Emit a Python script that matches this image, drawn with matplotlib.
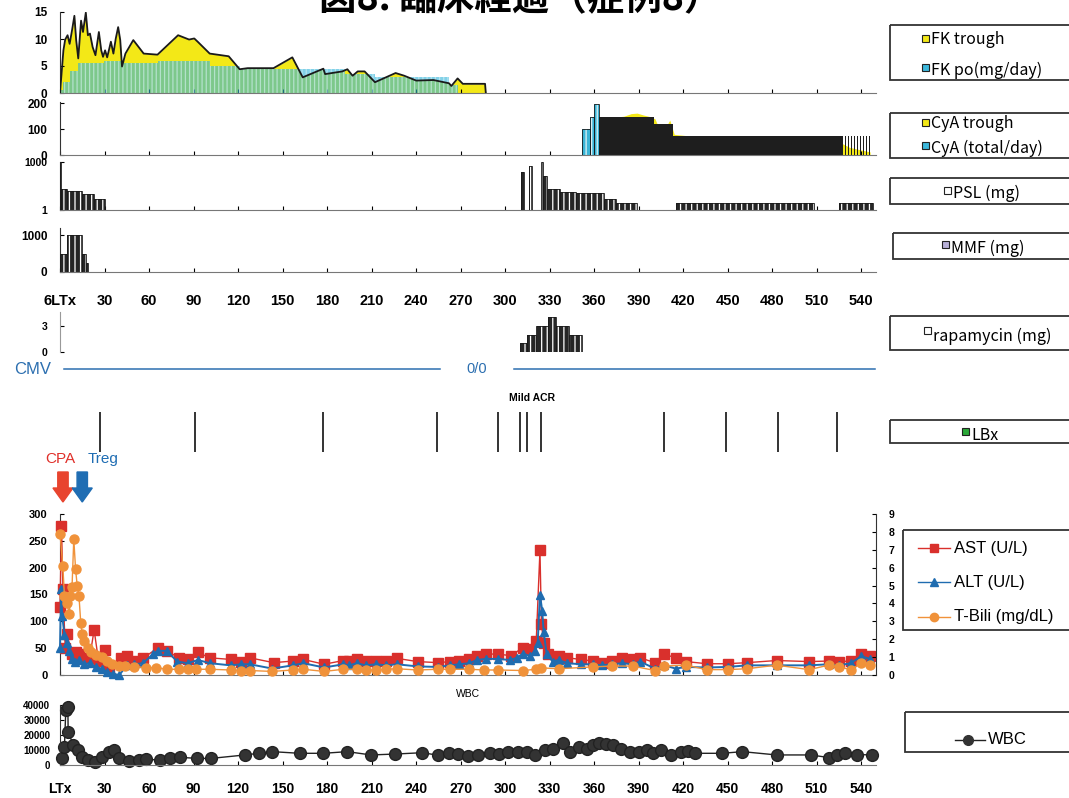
import numpy as np
import matplotlib
matplotlib.use("Agg")
import matplotlib.pyplot as plt
from matplotlib.patches import Rectangle, FancyArrow

plt.rcParams['font.family'] = ['Liberation Sans', 'Noto Sans CJK JP', 'DejaVu Sans']
plt.rcParams['font.weight'] = 'bold'
plt.rcParams['hatch.linewidth'] = 0.9

W, H = 1069, 798
XMAX = 550

# ---------------- data ----------------
# FK trough (ng/mL) and FK po dose (mg/day)
fk_day = [0, 2.3, 3.5, 5.1, 6.5, 8.1, 9.7, 10.9, 12.3, 14.2, 15.5, 17.4, 18.8, 20.2, 22.0, 23.9,
          26.2, 27.8, 29.0, 30.4, 31.8, 33.2, 34.3, 36.0, 37.6, 39.2, 40.6, 41.8, 44.1, 49.4, 56.4,
          65.7, 79.6, 87.0, 90.5, 92.8, 100.9, 113.7, 121.1, 126.5, 143.9, 156.6, 163.6, 177.5,
          178.7, 190.3, 193.7, 197.2, 200.7, 205.3, 212.3, 226.2, 232.0, 240.1, 251.7, 262.2,
          263.8, 268.0, 271.5, 286.5, 287.0]
fk_trough = [0, 7.9, 9.9, 10.7, 9.1, 11.6, 14.3, 9.8, 6.4, 13.4, 11.3, 14.9, 10.7, 11.0, 8.5, 7.0,
             11.3, 7.9, 6.7, 7.9, 6.6, 8.2, 9.5, 7.3, 10.1, 12.2, 9.8, 4.9, 7.3, 9.8, 7.3,
             7.1, 10.7, 9.9, 10.1, 9.5, 7.3, 6.8, 4.4, 4.6, 4.6, 6.6, 2.9, 4.5,
             3.5, 4.0, 4.4, 3.2, 4.0, 4.0, 2.0, 3.7, 3.2, 2.3, 2.4, 1.8,
             1.3, 2.7, 1.7, 1.7, 0]
fk_po_start = [0, 2, 7, 12, 29.5, 42, 66, 101, 121, 192, 212, 262]
fk_po_end = [2, 7, 12, 29.5, 42, 66, 101, 121, 192, 212, 262, 268]
fk_po_dose = [0.5, 2, 4, 5.5, 6, 5.5, 6, 5, 4.5, 3.5, 3, 1.5]

# CyA trough and CyA total/day
cya_day = [352, 356, 360, 363, 380, 385, 389, 393, 398, 401, 404, 406, 409, 411, 414, 430,
           520, 527, 532, 538, 546]
cya_trough = [20, 30, 45, 140, 150, 160, 162, 155, 148, 140, 100, 95, 115, 135, 80, 70,
              60, 45, 30, 22, 12]
cya_start = [352, 357, 360, 363, 400.5, 413]
cya_end = [357, 360, 363, 400.5, 413, 527]
cya_dose = [100, 147, 197, 147, 120, 75]
cya_late_day = [527, 529, 531, 533, 535, 537, 539, 541, 543, 545]
cya_late_dose = [75, 75, 75, 75, 75, 75, 75, 75, 75, 75]

# PSL (mg), log scale
psl_start = [0, 1, 5, 15, 23, 311, 316, 324, 325.5, 328, 337, 348, 367, 375, 415, 525]
psl_end = [1, 5, 15, 23, 30, 313, 318, 325.5, 328, 337, 348, 367, 375, 389, 508, 548]
psl_dose = [1000, 20, 15, 10, 5, 250, 530, 1000, 125, 20, 14, 11, 4.7, 2.9, 2.9, 2.9]

# MMF (mg)
mmf_start = [0, 4.6, 15, 17.4]
mmf_end = [4.6, 15, 17.4, 19]
mmf_dose = [500, 1000, 500, 250]

# rapamycin (mg)
rapa_start = [310, 315, 321, 329, 334, 343]
rapa_end = [315, 321, 329, 334, 343, 352]
rapa_dose = [1, 2, 3, 4, 3, 2]

# liver biopsy days
lbx_day = [27, 91, 177, 254, 295, 310, 314.5, 324, 407, 449, 484, 524]

# AST / ALT (U/L), T-Bili (mg/dL)
ast_day = [0, 1, 2, 3.5, 4.7, 8, 10.5, 13, 16, 20, 23, 26, 30, 33, 41, 45, 50, 56, 66, 72, 80, 86,
           93, 101, 115, 122, 128, 144, 157, 164, 178, 191, 195, 200, 206, 213, 220, 227, 241,
           255, 263, 269, 276, 281, 287, 295, 304, 312, 317, 321, 323.5, 324.5, 326, 329, 336,
           342, 351, 359, 365, 372, 379, 386, 391, 401, 407, 415, 422, 436, 450, 463, 483, 505,
           518, 525, 533, 540, 546]
ast = [127, 277, 160, 51, 76, 39, 42, 39, 32, 32, 84, 26, 47, 14, 32, 36, 26, 31, 51, 45, 32, 29,
       42, 32, 29, 24, 32, 23, 26, 29, 20, 27, 27, 29, 27, 27, 27, 31, 25,
       23, 25, 26, 29, 36, 39, 39, 36, 51, 48, 64, 232, 95, 60, 40, 36,
       32, 29, 26, 23, 27, 31, 29, 32, 23, 39, 32, 25, 21, 21, 23, 27, 25,
       26, 25, 26, 39, 36]
alt_day = [0, 0.7, 1.5, 3, 4.5, 6, 8, 10, 13, 16, 20, 24, 28, 32, 36, 40, 45, 50, 56, 63, 66, 72,
           79, 86, 93, 101, 115, 122, 128, 143, 157, 164, 178, 191, 195, 200, 206, 213, 220, 227,
           241, 255, 263, 269, 276, 281, 287, 295, 303, 308, 312, 317, 320, 322, 323.5, 325, 326,
           328, 332, 336, 342, 351, 359, 365, 372, 379, 386, 391, 401, 407, 415, 422, 436, 450,
           463, 483, 505, 518, 525, 533, 540, 546]
alt = [50, 160, 110, 75, 60, 45, 30, 25, 28, 20, 22, 15, 12, 5, 2, 0, 18, 20, 22, 40, 45, 45,
       25, 22, 28, 22, 18, 20, 20, 12, 18, 22, 14, 20, 18, 22, 18, 20, 18, 20,
       16, 15, 18, 20, 22, 28, 30, 30, 28, 32, 40, 35, 45, 60, 150, 120, 80,
       40, 25, 28, 22, 20, 20, 18, 20, 22, 20, 25, 12, 18, 12, 15, 14, 15,
       18, 18, 18, 20, 18, 22, 35, 30]
tb_day = [0, 1.9, 3, 4.7, 6.3, 7, 8.1, 9.3, 10.5, 11.6, 12.8, 14, 15, 16.3, 18.6, 21, 24.4, 28,
          31.4, 35, 39.5, 44, 50, 58, 65, 72, 80, 86, 92, 101, 115, 122, 128, 143, 157, 164, 178,
          191, 200, 206, 213, 220, 227, 241, 255, 263, 276, 286, 295, 312, 321, 324, 336, 359,
          372, 386, 401, 407, 422, 436, 450, 463, 483, 505, 518, 525, 533, 540, 546]
tbili = [7.9, 6.1, 4.4, 4.0, 3.4, 4.4, 4.9, 7.6, 5.9, 5.0, 4.4, 2.9, 2.3, 1.9, 1.5, 1.3, 1.1, 1.0,
         0.8, 0.6, 0.5, 0.5, 0.47, 0.41, 0.41, 0.32, 0.32, 0.32, 0.32, 0.32, 0.28, 0.25, 0.25, 0.2,
         0.28, 0.32, 0.2, 0.32, 0.32, 0.28, 0.28, 0.32, 0.35, 0.28, 0.32, 0.32, 0.32, 0.28, 0.28,
         0.25, 0.32, 0.4, 0.35, 0.45, 0.5, 0.5, 0.25, 0.5, 0.55, 0.3, 0.3, 0.35, 0.55, 0.3, 0.55,
         0.45, 0.3, 0.65, 0.55]

# WBC (/uL)
wbc_day = [1.6, 3.0, 3.9, 5.3, 5.5, 9.0, 12.2, 14.5, 19.1, 23.7, 28.3, 32.9, 36.5, 39.7, 46.6,
           53.5, 58.1, 67.3, 74.2, 81.1, 92.6, 101.8, 124.7, 133.9, 143.1, 161.5, 177.6, 193.6,
           209.7, 225.8, 244.2, 255, 262.5, 268, 275, 282, 290.1, 296, 302, 308.5, 315, 320,
           326.8, 332, 339, 344, 349.8, 355, 359, 363.6, 368, 372.8, 378, 384.2, 390, 395.8, 400,
           405, 412, 418.7, 423, 427.9, 446.3, 460, 483, 506, 518, 524, 529, 537, 547]
wbc = [4400, 12200, 36600, 38400, 22000, 13300, 10000, 5500, 3300, 2200, 5500, 8900, 10000, 4400,
       2900, 3300, 3800, 3300, 4400, 5100, 4400, 4400, 6700, 7800, 8900, 7800, 7800, 8900,
       6700, 7300, 8200, 6500, 7800, 7500, 6000, 7000, 7800, 7500, 8500, 8900, 9000, 7000,
       10000, 11000, 15000, 9000, 12200, 11000, 13300, 14400, 14000, 13300, 11000, 8900, 9000,
       10000, 8000, 10000, 7000, 8900, 9500, 7800, 7800, 8900, 6700, 6700, 5000, 6500, 7800,
       7000, 6700]

day_ticks = list(range(0, 541, 30))
top_labels = ['6LTx'] + [str(d) for d in day_ticks[1:]]
bottom_labels = ['LTx'] + [str(d) for d in day_ticks[1:]]

# ---------------- figure ----------------
fig = plt.figure(figsize=(W / 100, H / 100), dpi=100)
fig.patch.set_facecolor('white')


def panel(l, t, r, b):
    ax = fig.add_axes([l / W, 1 - b / H, (r - l) / W, (b - t) / H])
    ax.set_xlim(0, XMAX)
    ax.spines['top'].set_visible(False)
    ax.spines['right'].set_visible(False)
    ax.spines['bottom'].set_color('#777777')
    ax.spines['left'].set_color('#333333')
    ax.set_xticks(day_ticks)
    ax.tick_params(direction='in', length=3, labelsize=8.5, labelbottom=False, pad=9)
    ax.patch.set_alpha(0)
    return ax


def dose_bars(ax, start, end, dose, face='#262626', stripe='white', bottom=0, hatch='|||'):
    s = np.array(start, dtype=float)
    e = np.array(end, dtype=float)
    v = np.array(dose, dtype=float)
    ax.bar(s, v - bottom, width=e - s, bottom=bottom, align='edge', color=face,
           edgecolor=stripe, hatch=hatch, lw=0, zorder=2)
    ax.bar(s, v - bottom, width=e - s, bottom=bottom, align='edge', fill=False,
           edgecolor='#1a1a1a', lw=0.6, zorder=3)


# FK panel
ax_fk = panel(60, 12, 876, 93)
ax_fk.set_ylim(0, 15)
ax_fk.set_yticks([0, 5, 10, 15])
ax_fk.fill_between(fk_day, fk_trough, color='#f3e817', lw=0, zorder=1)
ax_fk.bar(fk_po_start, fk_po_dose, width=np.array(fk_po_end) - np.array(fk_po_start),
          align='edge', color='#2fb3d9', alpha=0.6, edgecolor='#d8f2f7', hatch='||||',
          lw=0, zorder=2)
ax_fk.plot(fk_day, fk_trough, color='#1a1a1a', lw=1.3, zorder=3)

# CyA panel
ax_cya = panel(60, 102, 876, 155)
ax_cya.set_ylim(0, 205)
ax_cya.set_yticks([0, 100, 200])
ax_cya.fill_between(cya_day, cya_trough, color='#f3e817', lw=0, zorder=1)
dose_bars(ax_cya, cya_start[:3], cya_end[:3], cya_dose[:3], face='#39b4d6', stripe='#dff3f8')
ax_cya.bar(cya_start[3:], cya_dose[3:], width=np.array(cya_end[3:]) - np.array(cya_start[3:]),
           align='edge', color='#1e1e1e', lw=0, zorder=2)
ax_cya.bar(cya_late_day, cya_late_dose, width=0.7, align='edge', color='#1e1e1e', lw=0, zorder=2)

# PSL panel (log)
ax_psl = panel(60, 162, 876, 210)
ax_psl.set_yscale('log')
ax_psl.set_ylim(1, 1000)
ax_psl.set_yticks([1, 1000])
ax_psl.set_yticklabels(['1', '1000'])
ax_psl.minorticks_off()
ax_psl.tick_params(axis='y', labelsize=7.5)
dose_bars(ax_psl, psl_start, psl_end, psl_dose, bottom=1)

# MMF panel
ax_mmf = panel(60, 228, 876, 272)
ax_mmf.set_ylim(0, 1190)
ax_mmf.set_yticks([0, 1000])
dose_bars(ax_mmf, mmf_start, mmf_end, mmf_dose)
ax_mmf.tick_params(axis='x', labelbottom=True, labelsize=10.5, pad=16)
ax_mmf.set_xticklabels(top_labels)

# rapamycin panel
ax_rapa = panel(60, 312, 876, 352)
ax_rapa.set_ylim(0, 4.6)
ax_rapa.set_yticks([0, 3])
ax_rapa.spines['bottom'].set_visible(False)
ax_rapa.tick_params(axis='x', length=0)
ax_rapa.tick_params(axis='y', labelsize=7.5)
ax_rapa.spines['left'].set_color('#999999')
dose_bars(ax_rapa, rapa_start, rapa_end, rapa_dose)

# CMV / LBx / arrows (y in pixels)
ax_an = fig.add_axes([60 / W, 1 - 505 / H, 816 / W, 150 / H])
ax_an.set_xlim(0, XMAX)
ax_an.set_ylim(505, 355)
ax_an.axis('off')
ax_an.plot([3, 256], [369, 369], color='#2c6fb0', lw=1.1)
ax_an.plot([306, 549], [369, 369], color='#2c6fb0', lw=1.1)
ax_an.text(281, 369, '0/0', color='#2c6fb0', fontsize=10.5, fontweight='normal',
           ha='center', va='center')
ax_an.text(-6, 369, 'CMV', color='#2c6fb0', fontsize=12, fontweight='normal',
           ha='right', va='center', clip_on=False)
ax_an.text(318, 398, 'Mild ACR', fontsize=7.5, ha='center', va='center')
ax_an.vlines(lbx_day, 412, 452, color='#111111', lw=1.2)
ax_an.text(0.5, 459, 'CPA', color='#e0302a', fontsize=11, fontweight='normal',
           ha='center', va='center', clip_on=False)
ax_an.text(29, 459, 'Treg', color='#1f6db3', fontsize=11, fontweight='normal',
           ha='center', va='center', clip_on=False)
ax_an.add_patch(FancyArrow(2, 472, 0, 30, width=7, head_width=13.5, head_length=14,
                           length_includes_head=True, color='#e8442e', clip_on=False))
ax_an.add_patch(FancyArrow(15, 472, 0, 30, width=7, head_width=13.5, head_length=14,
                           length_includes_head=True, color='#1f6db3', clip_on=False))

# liver function panel
ax_liv = panel(60, 514, 876, 675)
ax_liv.set_ylim(0, 300)
ax_liv.set_yticks(range(0, 301, 50))
ax_liv.tick_params(axis='y', labelsize=8)
ax_liv.plot(ast_day, ast, color='#d9302c', lw=1, marker='s', ms=6.5, zorder=3, clip_on=False)
ax_liv.plot(alt_day, alt, color='#1f6cb0', lw=1.4, marker='^', ms=6, zorder=4, clip_on=False)
ax_r = ax_liv.twinx()
ax_r.set_xlim(0, XMAX)
ax_r.set_ylim(0, 9)
ax_r.set_yticks(range(0, 10))
ax_r.spines['top'].set_visible(False)
ax_r.spines['left'].set_visible(False)
ax_r.spines['bottom'].set_visible(False)
ax_r.spines['right'].set_color('#333333')
ax_r.tick_params(direction='in', length=3, labelsize=7.5, pad=9)
ax_r.plot(tb_day, tbili, color='#f0923a', lw=1, marker='o', ms=6.5, zorder=5, clip_on=False)

# WBC panel
ax_wbc = panel(60, 705, 876, 765)
ax_wbc.set_ylim(0, 40000)
ax_wbc.set_yticks(range(0, 40001, 10000))
ax_wbc.tick_params(axis='y', labelsize=7, pad=7)
ax_wbc.plot(wbc_day, wbc, color='#222222', lw=1, marker='o', ms=8.5, mfc='#333333',
            mec='#222222', clip_on=False)
ax_wbc.tick_params(axis='x', labelbottom=True, labelsize=10, pad=12)
ax_wbc.set_xticklabels(bottom_labels)
ax_wbc.set_title('WBC', fontsize=7.5, pad=6)

# ---------------- overlay: title and legends ----------------
ov = fig.add_axes([0, 0, 1, 1])
ov.set_xlim(0, W)
ov.set_ylim(H, 0)
ov.axis('off')
ov.patch.set_alpha(0)

ov.text(520, -1, '図8. 臨床経過（症例8）', fontsize=27, fontweight='bold', ha='center',
        va='center', family=['Noto Sans CJK JP'])


def box(l, t, r, b):
    ov.add_patch(Rectangle((l, t), r - l, b - t, fill=False, ec='#333333', lw=1.3))


def square(x, y, color):
    ov.add_patch(Rectangle((x - 3.5, y - 3.5), 7, 7, fc=color, ec='#222222', lw=0.8))


def label(x, y, s, size=11.5):
    ov.text(x, y, s, fontsize=size, fontweight='normal', ha='left', va='center',
            family=['Noto Sans CJK JP', 'DejaVu Sans'])


box(890, 25, 1075, 80)
square(925, 38, '#f3e817')
label(931, 40, 'FK trough')
square(925, 67, '#3cb8dc')
label(931, 70, 'FK po(mg/day)')

box(890, 113, 1075, 158)
square(925, 122, '#f3e817')
label(931, 124, 'CyA trough')
square(925, 145, '#3cb8dc')
label(931, 148, 'CyA (total/day)')

box(890, 178, 1075, 204)
square(947, 190, 'white')
label(953, 193, 'PSL (mg)')

box(893, 233, 1075, 259)
square(945, 244, '#b8b0d8')
label(951, 248, 'MMF (mg)')

box(890, 316, 1075, 350)
square(927, 330, 'white')
label(933, 336, 'rapamycin (mg)')

box(890, 420, 1075, 443)
square(965, 431, '#2aa838')
label(971, 436, 'LBx')

box(903, 530, 1075, 630)
for yy, col, mk, txt in [(548, '#d9302c', 's', 'AST (U/L)'), (582, '#1f6cb0', '^', 'ALT (U/L)'),
                         (617, '#f0923a', 'o', 'T-Bili (mg/dL)')]:
    ov.plot([918, 950], [yy, yy], color=col, lw=1)
    ov.plot([934], [yy], color=col, marker=mk, ms=6)
    ov.text(954, yy, txt, fontsize=12, fontweight='normal', ha='left', va='center')

box(905, 712, 1075, 752)
ov.plot([955, 985], [740, 740], color='#222222', lw=1)
ov.plot([968], [740], color='#333333', marker='o', ms=7)
ov.text(988, 740, 'WBC', fontsize=12, fontweight='normal', ha='left', va='center')

fig.savefig('out.png', dpi=100)
